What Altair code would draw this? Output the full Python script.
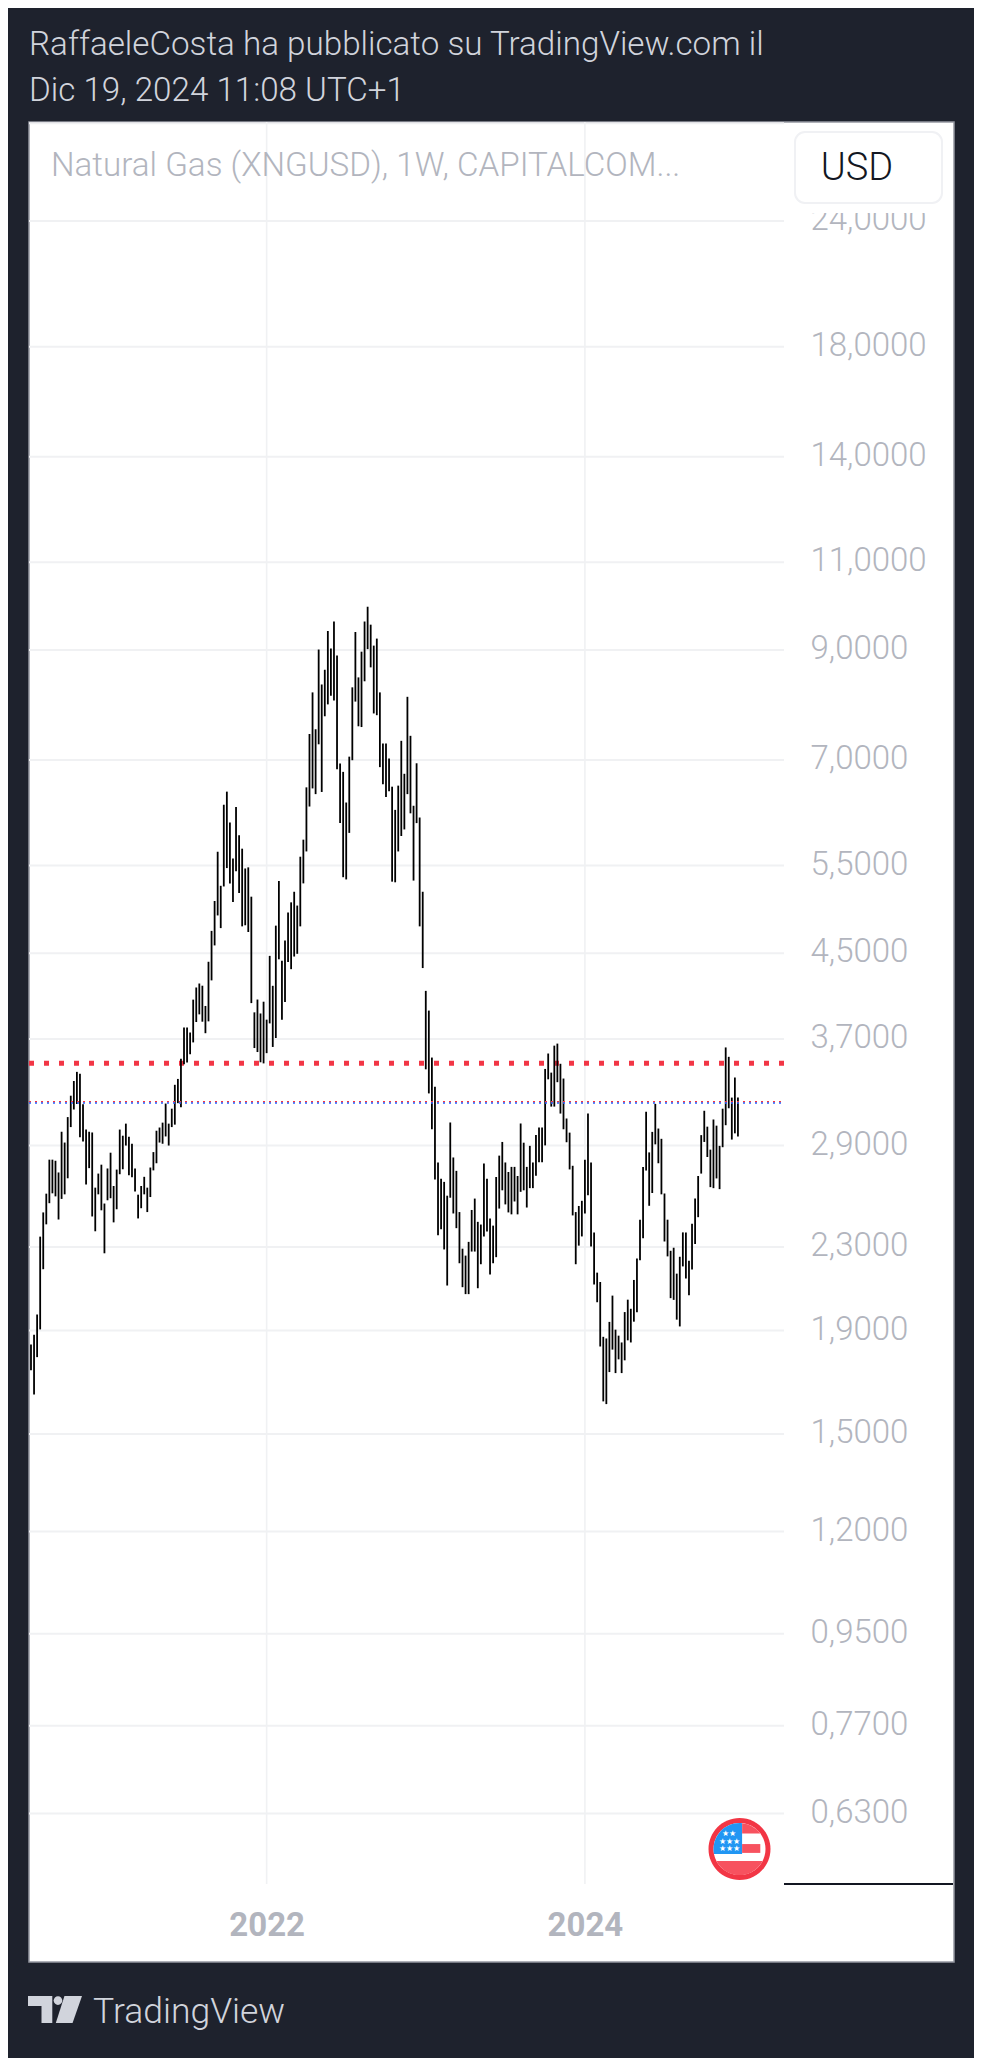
import pandas as pd
import altair as alt

# Natural Gas weekly bars (high / low per week)
highs = [
    1.840, 1.882, 1.971, 2.355, 2.489, 2.598, 2.808, 2.808, 2.801, 2.727, 2.993, 2.920, 3.095, 3.250, 3.361, 3.432,
    3.417, 3.187, 3.008, 2.993, 2.988, 2.634, 2.720, 2.776, 2.540, 2.752, 2.853, 2.644, 2.745, 3.008, 2.966, 3.049,
    2.959, 2.912, 2.752, 2.592, 2.644, 2.700, 2.634, 2.758, 2.857, 3.000, 3.022, 3.056, 3.192, 3.049, 3.155, 3.332,
    3.377, 3.536, 3.799, 3.799, 3.755, 4.048, 4.162, 4.200, 4.179, 3.990, 4.414, 4.737, 5.072,
    5.676, 5.251, 6.320, 6.512, 6.070, 5.590, 6.289, 5.893, 5.716, 5.463, 5.477, 5.122, 3.932, 4.049, 3.922, 4.029,
    3.867, 4.474, 4.178, 4.794, 5.309, 4.425, 4.633, 4.940, 5.056, 5.180, 5.019, 5.612, 5.835, 6.576, 7.429, 8.170,
    7.510, 9.011, 8.319, 8.604, 9.401, 9.033, 9.607, 8.888, 6.945, 6.813, 6.352, 7.054, 8.265, 9.379, 8.455, 8.967,
    9.607, 9.937, 9.538, 9.092, 9.239, 8.170, 7.268, 7.268, 7.026, 6.586, 6.246, 6.602, 7.314, 6.783, 8.088, 7.398,
    6.305, 6.948, 6.138, 5.180, 4.130, 3.948,
    3.546, 3.317, 2.790, 2.688, 2.669, 2.586, 3.057, 2.822, 2.737, 2.491, 2.291, 2.255, 2.327, 2.503, 2.569, 2.436,
    2.421, 2.783, 2.688, 2.454, 2.415, 2.699, 2.834, 2.924, 2.790, 2.730, 2.762, 2.762, 2.705, 3.050, 2.919, 2.762,
    2.898, 2.790, 2.970, 3.023, 3.023, 3.455, 3.579, 3.426, 3.644, 3.661, 3.496, 3.380, 3.085, 2.987, 2.769, 2.491,
    2.526, 2.556, 2.808, 3.120, 2.790, 2.378, 2.169, 2.123, 1.873, 1.866, 1.938, 2.058, 1.904, 1.878, 1.849, 1.982,
    2.039, 1.997, 2.133, 2.240, 2.448, 2.762, 3.133, 2.855, 2.992, 3.190, 3.015, 2.945, 2.599, 2.448, 2.280, 2.296,
    2.164, 2.249, 2.378, 2.378, 2.229, 2.426, 2.569, 2.705, 2.970, 3.140, 3.028, 2.873, 3.078, 3.035, 2.898, 3.155,
    3.629, 3.552, 3.236, 3.388, 3.236,
]
lows = [
    1.735, 1.642, 1.788, 1.905, 2.186, 2.422, 2.542, 2.600, 2.582, 2.449, 2.567, 2.594, 2.691, 3.025, 3.149, 3.189,
    2.956, 2.927, 2.653, 2.754, 2.466, 2.384, 2.594, 2.501, 2.267, 2.559, 2.571, 2.433, 2.507, 2.716, 2.747, 2.900,
    2.709, 2.698, 2.611, 2.455, 2.513, 2.594, 2.491, 2.578, 2.740, 2.785, 2.920, 2.912, 2.961, 2.900, 3.025, 3.042,
    3.195, 3.165, 3.492, 3.507, 3.573, 3.671, 3.846, 3.914, 3.849, 3.749, 3.852, 4.230, 4.582,
    4.907, 4.767, 5.243, 5.468, 5.280, 5.060, 5.427, 5.164, 4.786, 4.798, 4.725, 4.016, 3.624, 3.591, 3.508, 3.499,
    3.582, 3.834, 3.633, 3.708, 4.439, 3.867, 4.026, 4.411, 4.340, 4.467, 4.495, 4.786, 5.280, 5.680, 6.294, 6.560,
    6.475, 7.256, 6.507, 7.736, 7.949, 8.109, 8.021, 6.853, 6.060, 5.355, 5.328, 5.926, 6.997, 8.000, 7.561, 7.548,
    8.380, 9.019, 8.651, 7.786, 7.755, 6.887, 6.624, 6.432, 6.517, 5.301, 5.293, 5.680, 5.884, 5.973, 6.475, 6.197,
    5.314, 6.060, 4.786, 4.351, 3.452, 3.267,
    3.010, 2.684, 2.362, 2.395, 2.287, 2.106, 2.574, 2.483, 2.401, 2.216, 2.098, 2.065, 2.065, 2.276, 2.276, 2.093,
    2.211, 2.356, 2.383, 2.160, 2.216, 2.247, 2.511, 2.618, 2.535, 2.489, 2.478, 2.552, 2.478, 2.609, 2.618, 2.517,
    2.631, 2.631, 2.707, 2.792, 2.792, 2.901, 3.374, 3.170, 3.170, 3.352, 3.120, 3.010, 2.922, 2.746, 2.472, 2.211,
    2.307, 2.356, 2.483, 2.588, 2.302, 2.111, 2.027, 1.832, 1.616, 1.606, 1.728, 1.819, 1.724, 1.779, 1.724, 1.775,
    1.858, 1.849, 1.939, 1.981, 2.231, 2.346, 2.739, 2.527, 2.602, 2.908, 2.785, 2.594, 2.329, 2.251, 2.046, 2.038,
    1.948, 1.918, 2.200, 2.140, 2.060, 2.185, 2.316, 2.462, 2.720, 2.924, 2.825, 2.637, 2.631, 2.690, 2.625, 2.889,
    3.038, 3.158, 2.940, 2.982, 2.960,
]

price_ticks = [24, 18, 14, 11, 9, 7, 5.5, 4.5, 3.7, 2.9, 2.3, 1.9, 1.5, 1.2, 0.95, 0.77, 0.63]
grid_only = [30]
year_weeks = [77, 181]
year_names = ['2022', '2024']
red_level = 3.50
close_level = 3.20

# page colours
DARK = '#1e222d'
MUTED = '#b2b5be'
PALE = '#d1d4dc'
GRID = '#f0f1f3'
RED = '#f23645'
BLUE = '#2962ff'
FONT = 'Roboto'

# white panel position on the page
OX, OY = 29, 122
PANE_W, PANE_H = 755, 1762

x_scale = alt.Scale(domain=[-0.65, 301.6], nice=False, zero=False)
y_scale = alt.Scale(type='log', domain=[0.4487, 30.09], nice=False)

label_expr = "replace(format(datum.value, '.4f'), '.', ',')"
year_expr = "datum.value == %d ? '%s' : '%s'" % (year_weeks[0], year_names[0], year_names[1])

x_axis = alt.Axis(
    values=year_weeks, labelExpr=year_expr, title=None, grid=False, domain=False, ticks=False,
    offset=-37, labelPadding=0, labelBaseline='middle', labelFontSize=33, labelFontWeight='bold',
    labelColor=MUTED, labelFont=FONT, labelOverlap=False, labelFlush=False,
)
y_axis = alt.Axis(
    orient='right', values=price_ticks, labelExpr=label_expr, title=None, grid=False, domain=False,
    ticks=False, offset=-144, labelPadding=0, labelAlign='left', labelBaseline='middle', labelFontSize=33,
    labelFontWeight=300, labelColor=MUTED, labelFont=FONT, labelOverlap=False, labelFlush=False, labelOffset=-1.5,
)

bars = pd.DataFrame({'week': range(len(highs)), 'high': highs, 'low': lows})
one = alt.Data(values=[{'n': 1}])


def hline(level, color, width, dash):
    return alt.Chart(alt.Data(values=[{'p': level}])).mark_rule(
        color=color, strokeWidth=width, strokeDash=dash
    ).encode(
        x=alt.value(0), x2=alt.value(PANE_W),
        y=alt.Y('p:Q', scale=y_scale, axis=y_axis),
    )


def text(s, x, y, size, color, weight=300, align='left', baseline='alphabetic'):
    return alt.Chart(one).mark_text(
        text=s, font=FONT, fontSize=size, color=color, fontWeight=weight, align=align, baseline=baseline
    ).encode(x=alt.value(x - OX), y=alt.value(y - OY))


def box(x1, y1, x2, y2, **kw):
    return alt.Chart(one).mark_rect(**kw).encode(
        x=alt.value(x1 - OX), x2=alt.value(x2 - OX), y=alt.value(y1 - OY), y2=alt.value(y2 - OY)
    )


def glyph(path, cx, cy, r, color):
    return alt.Chart(one).mark_point(shape=path, filled=True, color=color, opacity=1, strokeWidth=0).encode(
        x=alt.value(cx - OX), y=alt.value(cy - OY), size=alt.value((2 * r) ** 2)
    )


CIRCLE = 'M-1 0 A1 1 0 1 1 1 0 A1 1 0 1 1 -1 0 Z'

grid_h = alt.Chart(pd.DataFrame({'p': price_ticks + grid_only})).mark_rule(color=GRID, strokeWidth=2).encode(
    x=alt.value(0), x2=alt.value(PANE_W),
    y=alt.Y('p:Q', scale=y_scale, axis=y_axis),
)
grid_v = alt.Chart(pd.DataFrame({'week': year_weeks})).mark_rule(color=GRID, strokeWidth=1.6).encode(
    x=alt.X('week:Q', scale=x_scale, axis=x_axis),
    y=alt.value(0), y2=alt.value(PANE_H),
)

week_bars = alt.Chart(bars).mark_rule(color='#000000', strokeWidth=1.8).encode(
    x=alt.X('week:Q', scale=x_scale, axis=x_axis),
    y=alt.Y('high:Q', scale=y_scale, axis=y_axis),
    y2='low:Q',
)

chart = alt.layer(
    grid_h,
    grid_v,
    hline(red_level, RED, 5, [5, 10]),
    week_bars,
    hline(close_level + 0.005, RED, 1.4, [2, 4]),
    hline(close_level - 0.004, BLUE, 1.4, [2, 4]),
    text('Natural Gas (XNGUSD), 1W, CAPITALCOM...', 51, 176, 33.2, MUTED),
    # currency button sits over the top price label
    box(784, 123, 953, 213, color='#ffffff'),
    box(795, 132, 942, 203, color='#ffffff', stroke='#f0f1f4', strokeWidth=2, cornerRadius=10),
    text('USD', 857, 180, 38, '#131722', align='center'),
    box(784, 1883, 953, 1885, color='#131722'),
    # flag badge
    glyph(CIRCLE, 739.5, 1849, 31, RED),
    glyph(CIRCLE, 739.5, 1849, 26, '#ffffff'),
    glyph('M0.1 0.19 L-0.98 0.19 A1 1 0 0 1 0.1 -0.995 Z', 739.5, 1849, 26, '#2196f3'),
    glyph('M0.1 -0.995 A1 1 0 0 1 0.8 -0.6 L0.1 -0.6 Z', 739.5, 1849, 26, '#f7525f'),
    glyph('M0.1 -0.19 L0.8 -0.19 L0.8 0.15 L0.1 0.15 Z', 739.5, 1849, 26, '#f7525f'),
    glyph('M0.89 0.46 A1 1 0 0 1 -0.89 0.46 Z', 739.5, 1849, 26, '#f7525f'),
    text('★★', 729, 1836, 8, '#ffffff', weight=400, align='center'),
    text('★★★', 729, 1844, 8, '#ffffff', weight=400, align='center'),
    text('★★★', 729, 1851, 8, '#ffffff', weight=400, align='center'),
    # header and footer on the dark page
    text('RaffaeleCosta ha pubblicato su TradingView.com il', 29, 55, 33.2, PALE),
    text('Dic 19, 2024 11:08 UTC+1', 29, 101, 33.2, PALE),
    glyph('M-1 -0.5 L-0.1 -0.5 L-0.1 0.5 L-0.5 0.5 L-0.5 -0.13 L-1 -0.13 Z', 55, 2009.5, 27, PALE),
    glyph('M-0.05 -0.33 A0.16 0.16 0 1 1 0.27 -0.33 A0.16 0.16 0 1 1 -0.05 -0.33 Z', 55, 2009.5, 27, PALE),
    glyph('M0.35 -0.5 L1 -0.5 L0.65 0.5 L0.03 0.5 Z', 55, 2009.5, 27, PALE),
    text('TradingView', 93, 2023, 35.5, PALE),
).properties(
    width=925,
    height=1840,
    background=DARK,
    padding={'left': 21, 'top': 114, 'right': 20, 'bottom': 96},
    autosize=alt.AutoSizeParams(type='none'),
).configure_view(
    fill='#ffffff',
    stroke='#9598a1',
    strokeWidth=1.5,
)

chart.save('out.html', embed_options={'renderer': 'svg', 'actions': False})
